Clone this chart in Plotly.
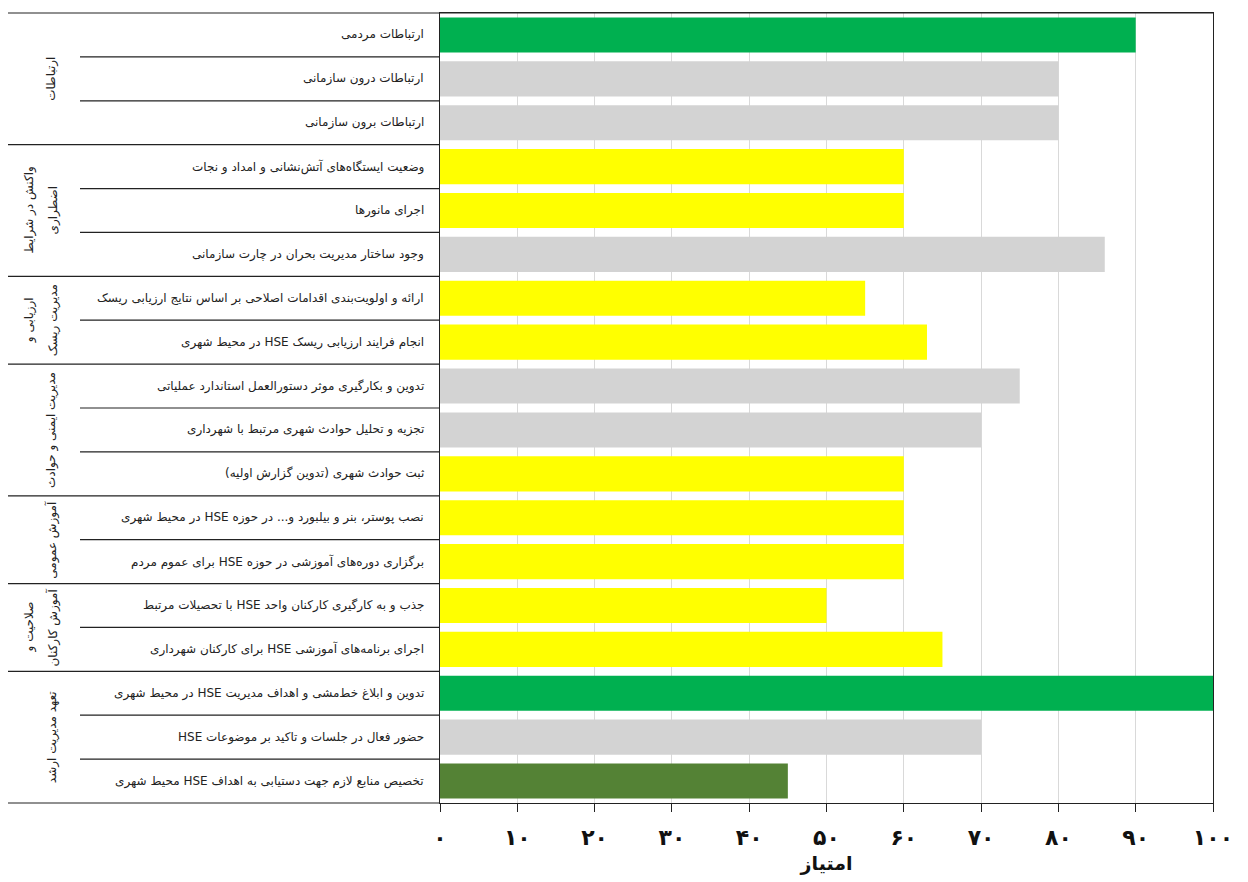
import plotly.graph_objects as go

# --- data ---
group_names = [
    "ارتباطات",
    "واکنش در شرایط<br>اضطراری",
    "ارزیابی و<br>مدیریت ریسک",
    "مدیریت ایمنی و حوادث",
    "آموزش عمومی",
    "صلاحیت و<br>آموزش کارکنان",
    "تعهد مدیریت ارشد",
]
group_sizes = [3, 3, 2, 3, 2, 2, 3]

items = [
    "ارتباطات مردمی",
    "ارتباطات درون سازمانی",
    "ارتباطات برون سازمانی",
    "وضعیت ایستگاه‌های آتش‌نشانی و امداد و نجات",
    "اجرای مانورها",
    "وجود ساختار مدیریت بحران در چارت سازمانی",
    "ارائه و اولویت‌بندی اقدامات اصلاحی بر اساس نتایج ارزیابی ریسک",
    "انجام فرایند ارزیابی ریسک HSE در محیط شهری",
    "تدوین و بکارگیری موثر دستورالعمل استاندارد عملیاتی",
    "تجزیه و تحلیل حوادث شهری مرتبط با شهرداری",
    "ثبت حوادث شهری (تدوین گزارش اولیه)",
    "نصب پوستر، بنر و بیلبورد و... در حوزه HSE در محیط شهری",
    "برگزاری دوره‌های آموزشی در حوزه HSE برای عموم مردم",
    "جذب و به کارگیری کارکنان واحد HSE با تحصیلات مرتبط",
    "اجرای برنامه‌های آموزشی HSE برای کارکنان شهرداری",
    "تدوین و ابلاغ خط‌مشی و اهداف مدیریت HSE در محیط شهری",
    "حضور فعال در جلسات و تاکید بر موضوعات HSE",
    "تخصیص منابع لازم جهت دستیابی به اهداف HSE محیط شهری",
]
scores = [90, 80, 80, 60, 60, 86, 55, 63, 75, 70, 60, 60, 60, 50, 65, 100, 70, 45]
status = ["high", "mid", "mid", "low", "low", "mid", "low", "low", "mid", "mid",
          "low", "low", "low", "low", "low", "high", "mid", "weak"]

tick_vals = [0, 10, 20, 30, 40, 50, 60, 70, 80, 90, 100]
tick_text = ["۰", "۱۰", "۲۰", "۳۰", "۴۰", "۵۰", "۶۰", "۷۰", "۸۰", "۹۰", "۱۰۰"]
x_title = "امتیاز"

palette = {"high": "#00B050", "mid": "#D3D3D3", "low": "#FFFF00", "weak": "#548235"}

RLE, PDF = "\u202b", "\u202c"

W, H = 1248, 882
L, R, T, B = 440, 35, 13, 79
pw = W - L - R
def px(p):
    return (p - L) / pw

fig = go.Figure(go.Bar(
    x=scores, y=items, orientation="h",
    marker=dict(color=[palette[s] for s in status], line=dict(width=0)),
    hoverinfo="x+y",
))

n = len(items)
shapes = []
annotations = []
row = 0
for name, size in zip(group_names, group_sizes):
    y_top = 1 - row / n
    y_bot = 1 - (row + size) / n
    # thin separators between the rows of one group
    for k in range(1, size):
        yy = 1 - (row + k) / n
        shapes.append(dict(type="line", xref="paper", yref="paper", x0=px(80), x1=0,
                           y0=yy, y1=yy, line=dict(color="#222", width=1.2)))
    # group border runs the full width of the label table
    shapes.append(dict(type="line", xref="paper", yref="paper", x0=px(8), x1=0,
                       y0=y_bot, y1=y_bot, line=dict(color="#222", width=1.2)))
    lines = name.split("<br>")
    xs = [52] if len(lines) == 1 else [29, 53]
    for ln, xp in zip(lines, xs):
        annotations.append(dict(
            text=RLE + ln + PDF,
            xref="paper", yref="paper", x=px(xp), y=(y_top + y_bot) / 2,
            textangle=-90, showarrow=False, xanchor="center", yanchor="middle",
            font=dict(size=12, color="#222", family="DejaVu Sans")))
    row += size
shapes.append(dict(type="line", xref="paper", yref="paper", x0=px(8), x1=1,
                   y0=1, y1=1, line=dict(color="#222", width=1.2)))

for it in items:
    annotations.append(dict(
        text=RLE + it + PDF, xref="paper", yref="y", x=0, y=it,
        xanchor="right", xshift=-14, showarrow=False,
        font=dict(size=12, color="#222", family="DejaVu Sans")))

fig.update_layout(
    width=W, height=H,
    margin=dict(l=L, r=R, t=T, b=B, pad=0),
    plot_bgcolor="white", paper_bgcolor="white",
    bargap=0.2, showlegend=False,
    shapes=shapes, annotations=annotations,
    xaxis=dict(range=[0, 100], tickvals=tick_vals,
               ticktext=["<b>" + t + "</b>" for t in tick_text],
               showgrid=True, gridcolor="#D9D9D9", gridwidth=1,
               showline=True, linecolor="#222", linewidth=1.2, mirror=True,
               ticks="outside", ticklen=8, tickcolor="#222", zeroline=False,
               tickfont=dict(size=22, family="DejaVu Sans", color="#111"),
               ticklabelstandoff=6,
               title=dict(text="<b>" + x_title + "</b>", standoff=8,
                          font=dict(size=19, family="DejaVu Sans", color="#111"))),
    yaxis=dict(autorange="reversed", showticklabels=False, showgrid=False,
               showline=True, linecolor="#222", linewidth=1.2, mirror=True,
               ticks="", zeroline=False),
)

fig.write_html("out.html", config={"displayModeBar": False},
               post_script="document.body.style.margin='0';")
